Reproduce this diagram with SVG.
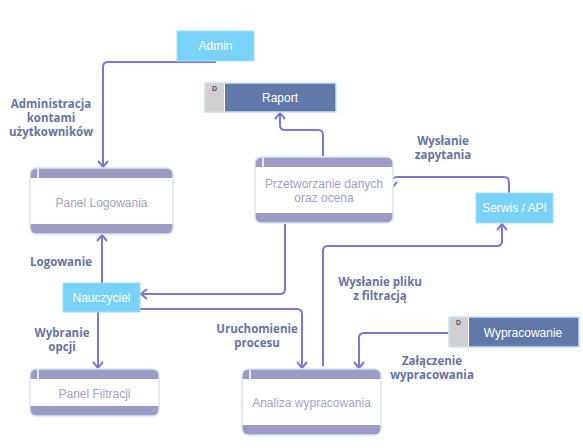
<svg xmlns="http://www.w3.org/2000/svg" width="583" height="448" viewBox="0 0 583 448">
<defs>
<marker id="arr" markerUnits="userSpaceOnUse" markerWidth="14" markerHeight="14" refX="9" refY="7" orient="auto">
<path d="M3,2 L9,7 L3,12" fill="none" stroke="#7b78d4" stroke-width="2"/>
</marker>
</defs>
<style>
.ext{fill:#79d2f8;stroke:#a8def7;stroke-width:1}
.extt{font-family:"Liberation Sans",Arial,sans-serif;font-size:12px;fill:#ffffff;text-anchor:middle}
.band{fill:#9d9bc3}
.pbody{fill:#ffffff}
.pout{fill:none;stroke:#d2e7f5;stroke-width:1.5}
.pt{font-family:"Liberation Sans",Arial,sans-serif;font-size:12px;fill:#a3a1c9;text-anchor:middle}
.dsd{fill:#d0d0d0}
.dsm{fill:#6079a8}
.dso{fill:none;stroke:#c9e2f3;stroke-width:1.5}
.dsl{font-family:"Liberation Sans",Arial,sans-serif;font-size:7px;fill:#555;font-weight:bold}
.lbl{font-family:"Open Sans","Noto Sans",sans-serif;font-size:11.5px;font-weight:bold;fill:#6773a6;text-anchor:middle}
.c{fill:none;stroke:#7b78d4;stroke-width:2;marker-end:url(#arr)}
</style>
<rect width="583" height="448" fill="#ffffff"/>
<g id="connectors">
<path class="c" d="M216,62 H108 Q103,62 103,67 V167"/>
<path class="c" d="M323,156 V135 Q323,130 318,130 H285 Q280,130 280,125 V113"/>
<path class="c" d="M509,193 V182 Q509,177 504,177 H397 Q392,177 392,182 V188"/>
<path class="c" d="M323,366 V251 Q323,246 328,246 H497 Q502,246 502,241 V224"/>
<path class="c" d="M285,224 V289 Q285,294 280,294 H141"/>
<path class="c" d="M102,283 V235"/>
<path class="c" d="M98,312 V368"/>
<path class="c" d="M140,309 H297 Q302,309 302,314 V368"/>
<path class="c" d="M449,333 H364 Q359,333 359,338 V368"/>
</g>
<g id="labels">
<text class="lbl" x="51" y="108">Administracja<tspan x="51" dy="14">kontami</tspan><tspan x="51" dy="14">użytkowników</tspan></text>
<text class="lbl" x="443" y="145">Wysłanie<tspan x="443" dy="14">zapytania</tspan></text>
<text class="lbl" x="61" y="266">Logowanie</text>
<text class="lbl" x="62" y="337">Wybranie<tspan x="62" dy="14">opcji</tspan></text>
<text class="lbl" x="257" y="333">Uruchomienie<tspan x="257" dy="14">procesu</tspan></text>
<text class="lbl" x="380" y="286">Wysłanie pliku<tspan x="380" dy="14">z filtracją</tspan></text>
<text class="lbl" x="432" y="365">Załączenie<tspan x="432" dy="14">wypracowania</tspan></text>
</g>
<g id="admin">
<rect class="ext" x="177" y="31" width="77" height="30"/>
<text class="extt" x="215.5" y="50">Admin</text>
</g>
<g id="serwis">
<rect class="ext" x="476" y="193" width="77" height="30"/>
<text class="extt" x="514.5" y="212">Serwis / API</text>
</g>
<g id="nauczyciel">
<rect class="ext" x="63" y="283" width="77" height="29"/>
<text class="extt" x="101.5" y="302">Nauczyciel</text>
</g>
<g id="raport">
<rect class="dsd" x="205" y="83" width="19" height="29"/>
<rect class="dsm" x="225" y="83" width="111" height="29"/>
<rect class="dso" x="205" y="83" width="131" height="29"/>
<text class="dsl" x="212" y="91">D</text>
<text class="extt" x="280" y="102">Raport</text>
</g>
<g id="wypracowanie">
<rect class="dsd" x="449" y="317" width="19" height="30"/>
<rect class="dsm" x="469" y="317" width="110" height="30"/>
<rect class="dso" x="449" y="317" width="130" height="30"/>
<text class="dsl" x="456" y="325">D</text>
<text class="extt" x="523" y="337">Wypracowanie</text>
</g>
<g id="panel-logowania">
<rect class="band" x="30" y="168" width="143" height="66" rx="6"/>
<rect class="pbody" x="30" y="178" width="143" height="46"/>
<line x1="38" y1="168" x2="38" y2="178" stroke="#ffffff" stroke-width="1.5"/>
<rect class="pout" x="30" y="168" width="143" height="66" rx="6"/>
<text class="pt" x="101.5" y="207">Panel Logowania</text>
</g>
<g id="przetwarzanie">
<rect class="band" x="255" y="157" width="138" height="66" rx="6"/>
<rect class="pbody" x="255" y="167" width="138" height="46"/>
<line x1="263" y1="157" x2="263" y2="167" stroke="#ffffff" stroke-width="1.5"/>
<rect class="pout" x="255" y="157" width="138" height="66" rx="6"/>
<text class="pt" x="324" y="188">Przetworzanie danych<tspan x="324" dy="14">oraz ocena</tspan></text>
</g>
<g id="panel-filtracji">
<rect class="band" x="30" y="369" width="129" height="47" rx="6"/>
<rect class="pbody" x="30" y="379" width="129" height="27"/>
<line x1="38" y1="369" x2="38" y2="379" stroke="#ffffff" stroke-width="1.5"/>
<rect class="pout" x="30" y="369" width="129" height="47" rx="6"/>
<text class="pt" x="94.5" y="398">Panel Filtracji</text>
</g>
<g id="analiza">
<rect class="band" x="242" y="369" width="139" height="66" rx="6"/>
<rect class="pbody" x="242" y="379" width="139" height="46"/>
<line x1="250" y1="369" x2="250" y2="379" stroke="#ffffff" stroke-width="1.5"/>
<rect class="pout" x="242" y="369" width="139" height="66" rx="6"/>
<text class="pt" x="311.5" y="407">Analiza wypracowania</text>
</g>
</svg>
